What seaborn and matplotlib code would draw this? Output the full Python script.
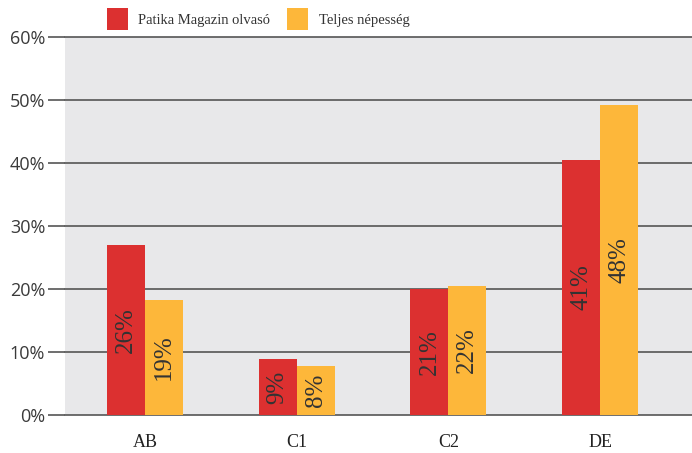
import matplotlib
matplotlib.use("Agg")
import matplotlib.pyplot as plt
import seaborn as sns
import pandas as pd
from matplotlib.patches import Patch

categories = ["AB", "C1", "C2", "DE"]
series_names = ["Patika Magazin olvasó", "Teljes népesség"]
reader_values = [27.0, 8.9, 20.0, 40.5]
population_values = [18.3, 7.7, 20.5, 49.2]
reader_labels = ["26%", "9%", "21%", "41%"]
population_labels = ["19%", "8%", "22%", "48%"]
ytick_values = [0, 10, 20, 30, 40, 50, 60]
ytick_labels = ["0%", "10%", "20%", "30%", "40%", "50%", "60%"]
colors = ["#DC3030", "#FDB73A"]

df = pd.DataFrame({
    "cat": categories * 2,
    "series": [series_names[0]] * 4 + [series_names[1]] * 4,
    "value": reader_values + population_values,
})

sns.set_theme(style="white")
plt.rcParams["font.family"] = ["DejaVu Sans"]

fig = plt.figure(figsize=(6.92, 4.53), dpi=100)
ax = fig.add_axes([65 / 692, 1 - 415 / 453, 1 - 65 / 692, (415 - 37) / 453])
ax.set_facecolor("#E8E8EA")

sns.barplot(data=df, x="cat", y="value", hue="series", palette=colors,
            width=0.5, gap=0, ax=ax, legend=False, saturation=1,
            edgecolor="none", linewidth=0)

ax.set_xlim(-0.527, 3.606)
ax.set_ylim(0, 60)
ax.set_yticks(ytick_values)
ax.set_yticklabels(ytick_labels, fontsize=13, color="#3a3a3a", family="Open Sans")
ax.yaxis.grid(True, color="#555555", linewidth=1.2)
ax.set_axisbelow(True)
for gl in ax.get_ygridlines():
    gl.set_clip_on(False)
ax.tick_params(axis="y", left=True, length=17 * 72 / 100, width=1.2, color="#555555", pad=2)
ax.tick_params(axis="x", length=0, pad=14)
ax.set_xticklabels(categories, fontsize=13, color="#222222", family="Liberation Serif")
ax.set_xlabel("")
ax.set_ylabel("")
for s in ax.spines.values():
    s.set_visible(False)

# bar labels rotated inside bars
labels = reader_labels + population_labels
for patch, lab in zip(ax.patches, labels):
    h = patch.get_height()
    cx = patch.get_x() + patch.get_width() / 2
    ax.text(cx, h / 2, lab, rotation=90, ha="center", va="center",
            fontsize=18, color="#333333", family="Liberation Serif")

handles = [Patch(facecolor=c, edgecolor="none") for c in colors]
fig.legend(handles, series_names, loc="upper left", bbox_to_anchor=(94 / 692, 1 + 5 / 453),
           ncol=2, frameon=False, handlelength=1.4, handleheight=1.9,
           handletextpad=0.75, columnspacing=1.15, prop={"family": "Liberation Serif", "size": 10.5})
for t in fig.legends[0].get_texts():
    t.set_color("#333333")

fig.savefig("out.png", dpi=100)
